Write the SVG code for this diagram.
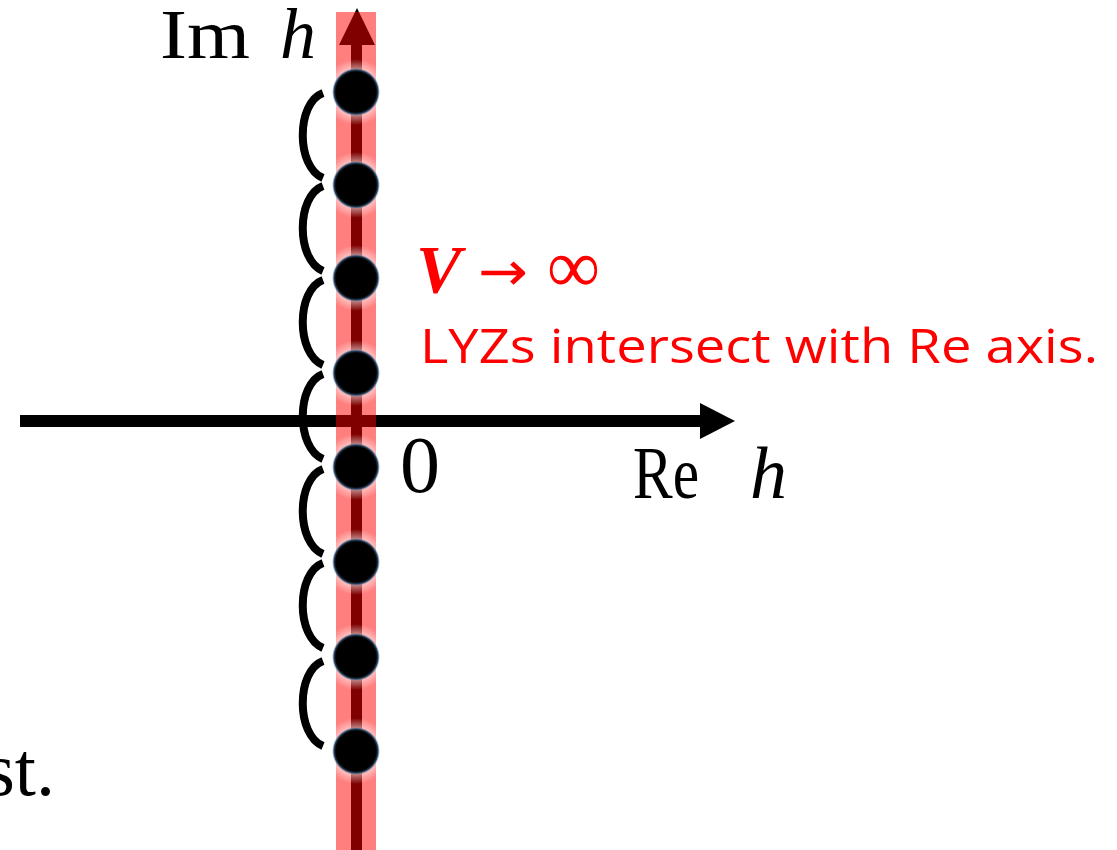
<svg xmlns="http://www.w3.org/2000/svg" width="1117" height="850" viewBox="0 0 1117 850">
<defs>
<style>
.serif{font-family:"Liberation Serif","Times New Roman",serif;fill:#000}
.red{font-family:"Open Sans","Liberation Sans",sans-serif;fill:#ff0000}
.brk{fill:none;stroke:#000;stroke-width:8;stroke-linecap:butt}
</style>
<radialGradient id="halo">
<stop offset="0.55" stop-color="#fff" stop-opacity="0.75"/>
<stop offset="1" stop-color="#fff" stop-opacity="0"/>
</radialGradient>
<radialGradient id="dotg">
<stop offset="0.84" stop-color="#000"/>
<stop offset="0.92" stop-color="#2a4763"/>
<stop offset="1" stop-color="#7a9ab8" stop-opacity="0"/>
</radialGradient>
</defs>
<rect width="1117" height="850" fill="#fff"/>
<g id="connectors">
<line x1="20" y1="421" x2="702" y2="421" stroke="#000" stroke-width="12"/>
<polygon points="700,403 735,421 700,439" fill="#000"/>
<line x1="356.5" y1="850" x2="356.5" y2="42" stroke="#000" stroke-width="11"/>
<polygon points="357,8 339,45 375,45" fill="#000"/>
<rect x="336" y="12" width="40" height="838" fill="#ff0000" fill-opacity="0.5"/>
</g>
<g id="brackets">
<path class="brk" d="M323,93 C296,103 296,167 323,178"/>
<path class="brk" d="M323,186 C296,196 296,260 323,271"/>
<path class="brk" d="M323,280 C296,290 296,354 323,365"/>
<path class="brk" d="M323,374 C296,384 296,448 323,459"/>
<path class="brk" d="M323,469 C296,479 296,543 323,554"/>
<path class="brk" d="M323,563 C296,573 296,637 323,648"/>
<path class="brk" d="M323,661 C296,671 296,735 323,746"/>
</g>
<g id="dots">
<circle cx="356" cy="92" r="33" fill="url(#halo)"/>
<circle cx="356" cy="185" r="33" fill="url(#halo)"/>
<circle cx="356" cy="278" r="33" fill="url(#halo)"/>
<circle cx="356" cy="373" r="33" fill="url(#halo)"/>
<circle cx="356" cy="467" r="33" fill="url(#halo)"/>
<circle cx="356" cy="562" r="33" fill="url(#halo)"/>
<circle cx="356" cy="657" r="33" fill="url(#halo)"/>
<circle cx="356" cy="751" r="33" fill="url(#halo)"/>
<circle cx="356" cy="92" r="24" fill="url(#dotg)"/>
<circle cx="356" cy="185" r="24" fill="url(#dotg)"/>
<circle cx="356" cy="278" r="24" fill="url(#dotg)"/>
<circle cx="356" cy="373" r="24" fill="url(#dotg)"/>
<circle cx="356" cy="467" r="24" fill="url(#dotg)"/>
<circle cx="356" cy="562" r="24" fill="url(#dotg)"/>
<circle cx="356" cy="657" r="24" fill="url(#dotg)"/>
<circle cx="356" cy="751" r="24" fill="url(#dotg)"/>
</g>
<g id="labels">
<text class="serif" x="160" y="58" font-size="70" textLength="90" lengthAdjust="spacingAndGlyphs">Im</text>
<text class="serif" x="280" y="58" font-size="72" font-style="italic">h</text>
<text class="serif" x="400" y="492" font-size="80">0</text>
<text class="serif" x="633" y="498" font-size="74" textLength="66" lengthAdjust="spacingAndGlyphs">Re</text>
<text class="serif" x="750" y="498" font-size="74" font-style="italic">h</text>
<text class="serif" x="55" y="795" font-size="76" text-anchor="end">st.</text>
</g>
<g id="note">
<text x="416" y="292" font-size="68" font-weight="bold" font-style="italic" font-family="Liberation Serif,serif" fill="#ff0000">V</text>
<text x="478" y="290" font-size="54" font-family="DejaVu Sans,sans-serif" fill="#ff0000" textLength="50" lengthAdjust="spacingAndGlyphs">→</text>
<text x="547" y="292" font-size="76" font-family="Liberation Serif,serif" fill="#ff0000" textLength="53" lengthAdjust="spacingAndGlyphs">∞</text>
<text class="red" x="420" y="363" font-size="47" textLength="678" lengthAdjust="spacingAndGlyphs">LYZs intersect with Re axis.</text>
</g>
</svg>
